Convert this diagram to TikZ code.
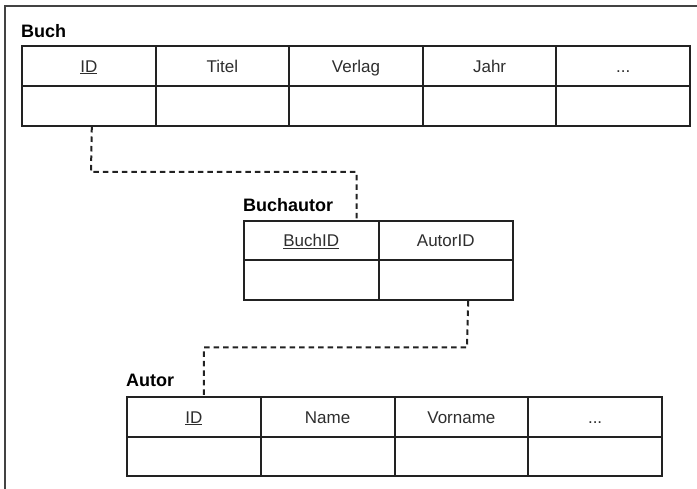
\documentclass[tikz,border=0pt]{standalone}
\usepackage{fontspec}
\setmainfont{Liberation Sans}
\usetikzlibrary{calc}
\definecolor{ink}{HTML}{222222}
\definecolor{txt}{HTML}{2E2E2E}
\tikzset{
  cell/.style={draw=ink, line width=2pt, anchor=north west, inner sep=0pt,
    minimum height=40pt, text=txt, text height=12.2pt, text depth=0pt,
    font=\fontsize{17}{19}\selectfont},
  tablelabel/.style={anchor=base west, inner sep=0pt, text=black,
    font=\bfseries\fontsize{18}{20}\selectfont},
  conn/.style={draw=ink, line width=2pt, dash pattern=on 5.5pt off 4pt},
  frameline/.style={draw=ink!85, line width=2pt}
}
\newcommand{\keyu}[1]{\underline{#1}}
\newcommand{\tdots}{...}
\begin{document}
\begin{tikzpicture}[x=1pt,y=-1pt]
\useasboundingbox (0,0) rectangle (697,489);
\fill[white] (0,0) rectangle (697,489);
\draw[frameline] (5,489) -- (5,6.5) -- (697,6.5);

% Buch
\node[tablelabel] (lbuch) at (21,38) {Buch};
\foreach \i/\t in {0/\keyu{ID},1/Titel,2/Verlag,3/Jahr,4/\tdots}{
  \node[cell, minimum width=133.6pt] (bh\i) at ({21+133.6*\i},45) {\t};
  \node[cell, minimum width=133.6pt] (bd\i) at ({21+133.6*\i},85) {};
}

% Buchautor
\node[tablelabel] (lba) at (243,212) {Buchautor};
\foreach \i/\t in {0/\keyu{BuchID},1/AutorID}{
  \node[cell, minimum width=134.5pt, minimum height=39.5pt] (ah\i) at ({243+134.5*\i},220) {\t};
  \node[cell, minimum width=134.5pt, minimum height=39.5pt] (ad\i) at ({243+134.5*\i},259.5) {};
}

% Autor
\node[tablelabel] (lautor) at (126,387) {Autor};
\foreach \i/\t in {0/\keyu{ID},1/Name,2/Vorname,3/\tdots}{
  \node[cell, minimum width=133.75pt] (uh\i) at ({126+133.75*\i},396) {\t};
  \node[cell, minimum width=133.75pt, minimum height=39pt] (ud\i) at ({126+133.75*\i},436) {};
}

% connectors
\coordinate (c1) at (91,172);
\coordinate (c2) at (467,347.5);
\draw[conn] ([xshift=3pt]bd0.south) -- (c1) -| ([xshift=-23pt]ah0.north east);
\draw[conn] ([xshift=22.5pt]ad1.south) -- (c2) -| ([xshift=10pt]uh0.north);
\end{tikzpicture}
\end{document}
